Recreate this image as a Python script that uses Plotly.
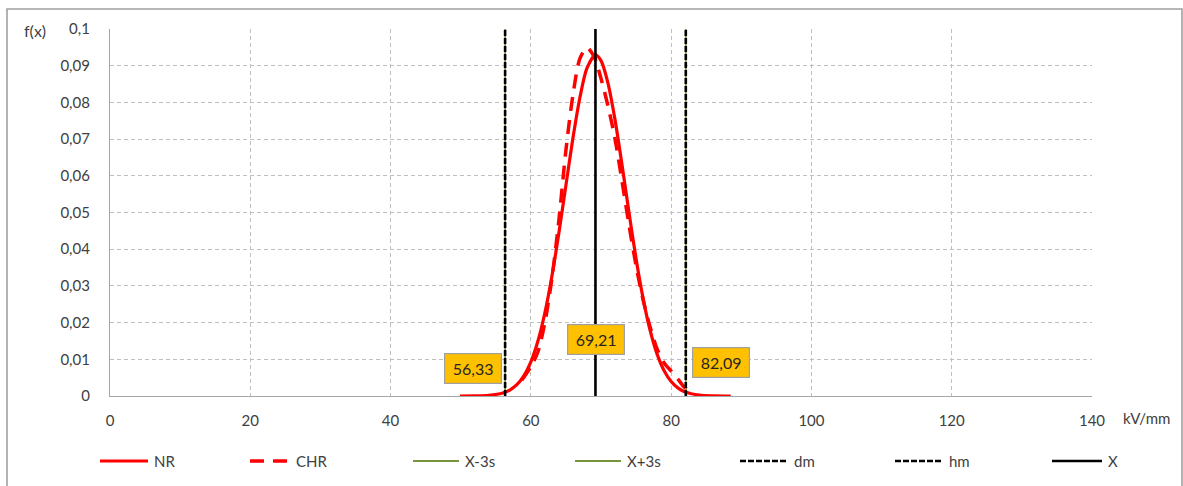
import plotly.graph_objects as go

# NR: fitted normal density (kV/mm -> f(x))
x_nr = [49.9, 52, 54, 56, 57, 58, 59, 60, 61, 62, 63, 64, 65, 66, 67, 68, 69.21,
        70, 71, 72, 73, 74, 75, 76, 77, 78, 79, 80, 81, 82, 84, 86, 88.5]
y_nr = [0.0, 0.00003, 0.00018, 0.00082, 0.00163, 0.00307, 0.00549, 0.00931, 0.01492,
        0.02269, 0.03265, 0.04450, 0.05746, 0.07027, 0.08140, 0.08931, 0.09293,
        0.09137, 0.08520, 0.07524, 0.06294, 0.04987, 0.03742, 0.02661, 0.01791, 0.01142,
        0.00690, 0.00395, 0.00214, 0.00110, 0.00025, 0.00004, 0.0]

# CHR: characteristic curve
x_chr = [58.7, 60, 61, 62, 63, 64, 65, 66, 67, 68, 69, 70, 71, 72, 73, 74, 75, 76, 77,
         78, 79, 80, 81, 82, 83.2]
y_chr = [0.0043, 0.0080, 0.0120, 0.0200, 0.0320, 0.0480, 0.0670, 0.0820, 0.0920, 0.0949,
         0.0925, 0.0865, 0.0790, 0.0700, 0.0585, 0.0465, 0.0355, 0.0262, 0.0188, 0.0128,
         0.0090, 0.0068, 0.0045, 0.0022, 0.0010]

# Reference lines
x_minus_3s = 56.33
x_plus_3s = 82.09
x_mean = 69.21
dm = 56.33
hm = 82.09

series_names = ["NR", "CHR", "X-3s", "X+3s", "dm", "hm", "X"]

x_ticks = [0, 20, 40, 60, 80, 100, 120, 140]
y_ticks = [0, 0.01, 0.02, 0.03, 0.04, 0.05, 0.06, 0.07, 0.08, 0.09, 0.1]

FONT = "Lato, 'Open Sans', sans-serif"
TXT = "#404040"
GRID = "#BFBFBF"
AXIS = "#A6A6A6"
RED = "#FF0000"
GREEN = "#77933C"

y_top = y_ticks[-1]

styles = {
    "NR": dict(color=RED, width=3.2),
    "CHR": dict(color=RED, width=3.5, dash="14px,9px"),
    "X-3s": dict(color=GREEN, width=1.8),
    "X+3s": dict(color=GREEN, width=1.8),
    "dm": dict(color="black", width=2.6, dash="6px,2px"),
    "hm": dict(color="black", width=2.6, dash="6px,2px"),
    "X": dict(color="black", width=2.6),
}

fig = go.Figure()

fig.add_trace(go.Scatter(x=x_nr, y=y_nr, mode="lines", name="NR", showlegend=False,
                         line=dict(shape="spline", smoothing=0.8, **styles["NR"])))
fig.add_trace(go.Scatter(x=x_chr, y=y_chr, mode="lines", name="CHR", showlegend=False,
                         line=dict(shape="spline", smoothing=0.8, **styles["CHR"])))

for name, v in [("X-3s", x_minus_3s), ("X+3s", x_plus_3s), ("dm", dm), ("hm", hm),
                ("X", x_mean)]:
    fig.add_trace(go.Scatter(x=[v, v], y=[0, y_top], mode="lines", name=name,
                             showlegend=False, line=styles[name]))


def fmt(v):
    return f"{v:.2f}".replace(".", ",")


# Value labels on the reference lines
label_specs = [
    (x_minus_3s, 0.0076, "right", -3),
    (x_mean, 0.0155, "center", 1),
    (x_plus_3s, 0.0092, "left", 6),
]
annotations = []
for v, yy, anchor, shift in label_specs:
    annotations.append(dict(
        x=v, y=yy, xref="x", yref="y", text=fmt(v), showarrow=False,
        xanchor=anchor, yanchor="middle", xshift=shift,
        bgcolor="#FFC000", bordercolor="#A0A0A0", borderwidth=1.2, borderpad=1,
        width=54, height=27, font=dict(family=FONT, size=16, color="#262626"),
    ))

# Plot-area geometry in pixels (for paper-coordinate placement)
W, H = 1183, 486
ML, MR, MT, MB = 110, 91, 29, 90
PW, PH = W - ML - MR, H - MT - MB


def px_x(px):
    return (px - ML) / PW


def px_y(py):
    return (H - MB - py) / PH


annotations.append(dict(x=px_x(35), y=px_y(30), xref="paper", yref="paper", text="f(x)",
                        showarrow=False, xanchor="center", yanchor="middle",
                        font=dict(family=FONT, size=16, color=TXT)))
annotations.append(dict(x=px_x(1146), y=px_y(418), xref="paper", yref="paper", text="kV/mm",
                        showarrow=False, xanchor="center", yanchor="middle",
                        font=dict(family=FONT, size=15, color=TXT)))

# Legend row drawn with shapes + text
shapes = []
legend_start = [100, 250, 413, 575, 740, 895, 1052]
legend_len = [48, 40, 46, 46, 48, 48, 50]
legend_y = 461
for name, sx, ln in zip(series_names, legend_start, legend_len):
    st = styles[name]
    shapes.append(dict(type="line", xref="paper", yref="paper",
                       x0=px_x(sx), x1=px_x(sx + ln), y0=px_y(legend_y), y1=px_y(legend_y),
                       line=dict(color=st["color"], width=st["width"],
                                 dash=st.get("dash", "solid"))))
    annotations.append(dict(x=px_x(sx + ln + 4), y=px_y(legend_y), xref="paper", yref="paper",
                            text=name, showarrow=False, xanchor="left", yanchor="middle",
                            font=dict(family=FONT, size=15, color=TXT)))

# Outer chart border
shapes.append(dict(type="rect", xref="paper", yref="paper", layer="below",
                   x0=px_x(7), x1=px_x(1182), y0=px_y(492), y1=px_y(9),
                   line=dict(color="#A0A0A0", width=1.6), fillcolor="rgba(0,0,0,0)"))

fig.update_layout(
    width=W, height=H,
    margin=dict(l=ML, r=MR, t=MT, b=MB),
    paper_bgcolor="white", plot_bgcolor="white",
    separators=", ",
    font=dict(family=FONT, size=15, color=TXT),
    showlegend=False,
    annotations=annotations,
    shapes=shapes,
    xaxis=dict(range=[0, 140], tickvals=x_ticks, showgrid=True, gridcolor=GRID,
               griddash="4px,3px", gridwidth=1, zeroline=False, showline=True,
               linecolor=AXIS, linewidth=1.2, ticks="", ticklabelstandoff=11,
               tickfont=dict(family=FONT, size=15, color=TXT), fixedrange=True),
    yaxis=dict(range=[0, 0.1], tickvals=y_ticks, showgrid=True, gridcolor=GRID,
               griddash="4px,3px", gridwidth=1, zeroline=False, showline=True,
               linecolor=AXIS, linewidth=1.2, ticks="", ticklabelstandoff=16,
               tickfont=dict(family=FONT, size=15, color=TXT), fixedrange=True),
)

fig.write_html("out.html", config={"displayModeBar": False})
